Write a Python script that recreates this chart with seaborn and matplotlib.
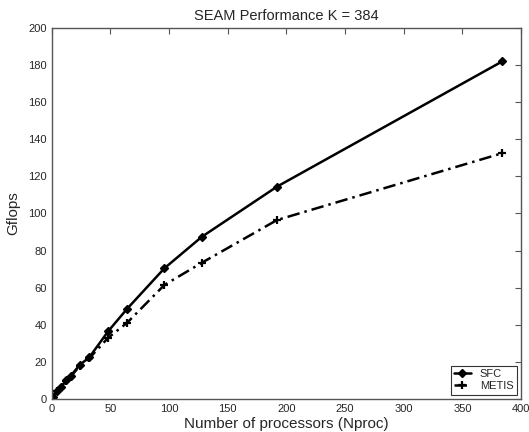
import matplotlib
matplotlib.use("Agg")
import matplotlib.pyplot as plt
import seaborn as sns
import pandas as pd

nproc = [1, 4, 8, 12, 16, 24, 32, 48, 64, 96, 128, 192, 384]
sfc = [1, 4.5, 6.5, 10, 12.5, 18.5, 22.5, 36.5, 48.5, 70.5, 87.5, 114.5, 182]
metis = [1, 4.5, 6, 9.5, 12, 18, 22, 33, 41, 61.5, 73.5, 96.5, 132.5]
series_names = ["SFC", "METIS"]

sns.set_style("white")
plt.rcParams['font.family'] = ['Liberation Sans', 'DejaVu Sans']

fig = plt.figure(figsize=(5.29, 4.32), dpi=100)
ax = fig.add_axes([0.098, 0.0764, 0.887, 0.8588])

df = pd.DataFrame({"Nproc": nproc * 2,
                   "Gflops": sfc + metis,
                   "method": [series_names[0]] * len(nproc) + [series_names[1]] * len(nproc)})

sns.lineplot(data=df[df.method == "SFC"], x="Nproc", y="Gflops", ax=ax,
             color="black", lw=1.8, marker="D", markersize=4.5,
             markerfacecolor="black", markeredgecolor="black", markeredgewidth=1,
             label="SFC")
sns.lineplot(data=df[df.method == "METIS"], x="Nproc", y="Gflops", ax=ax,
             color="black", lw=1.8, marker="+", markersize=6, markeredgewidth=1.6,
             markeredgecolor="black", markerfacecolor="black",
             linestyle=(0, (5, 2, 1, 2)), label="METIS")

ax.set_xlim(0, 400)
ax.set_ylim(0, 200)
ax.set_xticks(range(0, 401, 50))
ax.set_yticks(range(0, 201, 20))
ax.tick_params(direction="in", top=True, right=True, length=4, labelsize=8, color="#555555")
for s in ax.spines.values():
    s.set_color("#555555")
    s.set_linewidth(1)
ax.set_title("SEAM Performance K = 384", fontsize=10.5)
ax.set_xlabel("Number of processors (Nproc)", fontsize=11, labelpad=2)
ax.set_ylabel("Gflops", fontsize=11, labelpad=6)
leg = ax.legend(loc="lower right", fontsize=8, frameon=True, fancybox=False,
                handlelength=1.5, borderpad=0.3, labelspacing=0.2, borderaxespad=0.4)
leg.get_frame().set_edgecolor("black")
leg.get_frame().set_linewidth(0.8)

fig.savefig("out.png", dpi=100)
